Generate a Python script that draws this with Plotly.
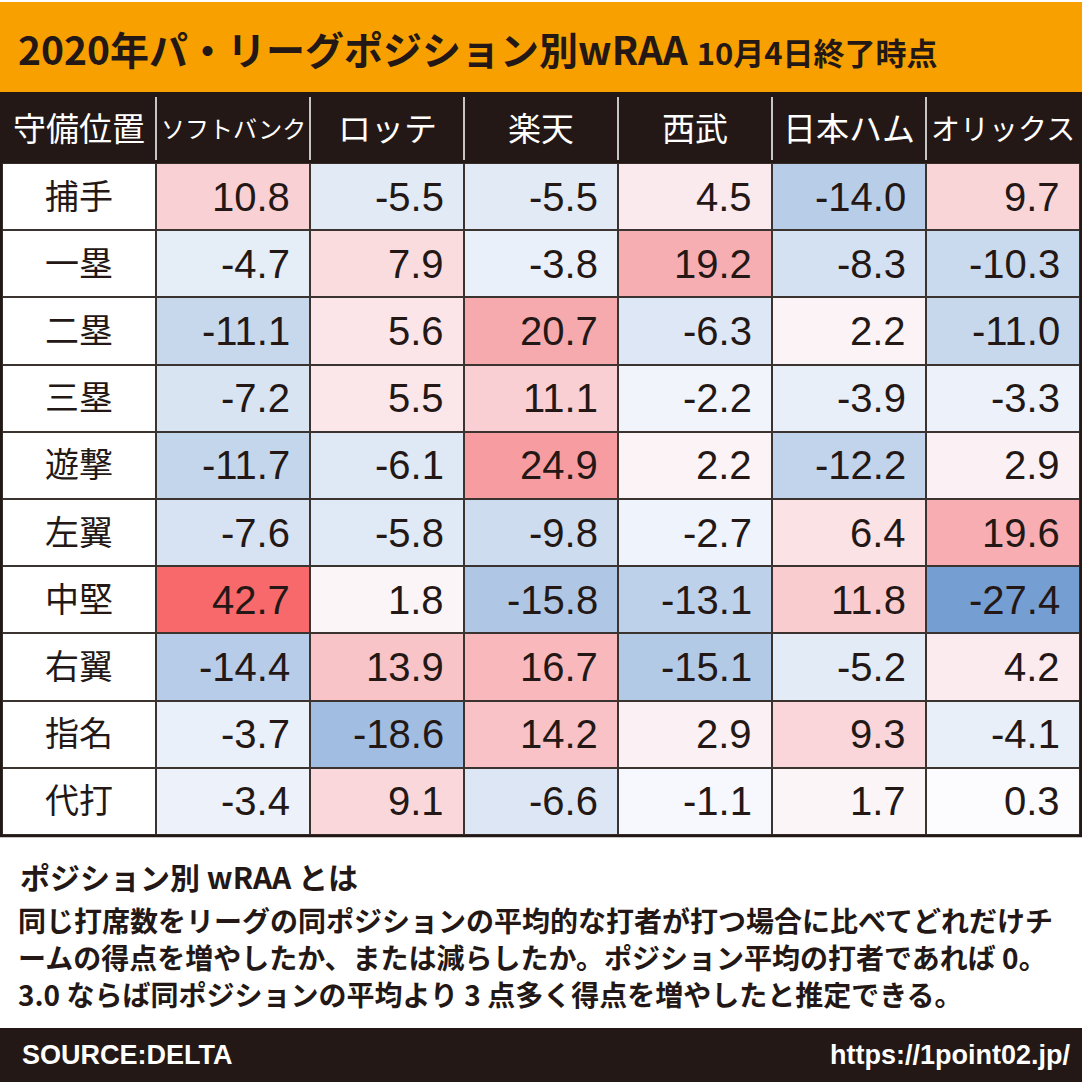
import plotly.graph_objects as go

# data
teams = ["ソフトバンク", "ロッテ", "楽天", "西武", "日本ハム", "オリックス"]
positions = ["捕手", "一塁", "二塁", "三塁", "遊撃", "左翼", "中堅", "右翼", "指名", "代打"]
softbank = [10.8, -4.7, -11.1, -7.2, -11.7, -7.6, 42.7, -14.4, -3.7, -3.4]
lotte = [-5.5, 7.9, 5.6, 5.5, -6.1, -5.8, 1.8, 13.9, -18.6, 9.1]
rakuten = [-5.5, -3.8, 20.7, 11.1, 24.9, -9.8, -15.8, 16.7, 14.2, -6.6]
seibu = [4.5, 19.2, -6.3, -2.2, 2.2, -2.7, -13.1, -15.1, 2.9, -1.1]
nipponham = [-14.0, -8.3, 2.2, -3.9, -12.2, 6.4, 11.8, -5.2, 9.3, 1.7]
orix = [9.7, -10.3, -11.0, -3.3, 2.9, 19.6, -27.4, 4.2, -4.1, 0.3]
team_values = [softbank, lotte, rakuten, seibu, nipponham, orix]

title_main = "2020年パ・リーグポジション別wRAA"
title_sub = "10月4日終了時点"
corner_label = "守備位置"
note_head = "ポジション別 wRAA とは"
note_lines = [
    "同じ打席数をリーグの同ポジションの平均的な打者が打つ場合に比べてどれだけチ",
    "ームの得点を増やしたか、または減らしたか。ポジション平均の打者であれば 0。",
    "3.0 ならば同ポジションの平均より 3 点多く得点を増やしたと推定できる。",
]
source_text = "SOURCE:DELTA"
url_text = "https://1point02.jp/"

DARK = "#231815"
ORANGE = "#F7A000"
JP = "Noto Sans CJK JP"
NUM = "Liberation Sans, Arial, sans-serif"
W = H = 1082


def py(px):
    # pixel row (from top) -> paper y
    return 1 - px / H


# z matrix rows = positions, cols = teams
z = [[team_values[j][i] for j in range(len(teams))] for i in range(len(positions))]
zmin = min(min(v) for v in team_values)
zmax = max(max(v) for v in team_values)
mid = -zmin / (zmax - zmin)

fig = go.Figure()

# label column (white cells)
fig.add_trace(go.Heatmap(
    x=[corner_label] * len(positions), y=positions, z=[0] * len(positions),
    text=positions, texttemplate="%{text}",
    textfont=dict(family=JP, size=34, color=DARK),
    colorscale=[[0, "white"], [1, "white"]], showscale=False,
    xgap=2, ygap=2, hoverinfo="skip",
))

fig.add_trace(go.Heatmap(
    x=teams, y=positions, z=z, zmin=zmin, zmax=zmax,
    colorscale=[[0, "#759ED2"], [mid * 0.5, "#BACFE9"], [mid, "#FCFCFF"],
                [mid + (1 - mid) * 0.45, "#F7AEB2"], [1, "#F8696B"]],
    showscale=False, xgap=2, ygap=2,
))

annotations = []
for j, t in enumerate(teams):
    for i, p in enumerate(positions):
        annotations.append(dict(
            x=t, y=p, xref="x", yref="y", text=f"{team_values[j][i]:.1f}",
            showarrow=False, xanchor="right", xshift=59,
            font=dict(family=NUM, size=40, color=DARK),
        ))

# header labels
for lab in [corner_label] + teams:
    annotations.append(dict(
        x=lab, xref="x", y=py(127), yref="paper", yanchor="middle", text=lab,
        showarrow=False,
        font=dict(family=JP, size=min(33, int(146 / len(lab))), color="white"),
    ))

# title
annotations.append(dict(
    x=16 / W, y=py(48), xref="paper", yref="paper", xanchor="left", yanchor="middle",
    text=f"<b>{title_main}</b> <b><span style='font-size:31px'>{title_sub}</span></b>",
    showarrow=False, font=dict(family=JP, size=39, color=DARK),
))

# note
annotations.append(dict(
    x=18 / W, y=py(876), xref="paper", yref="paper", xanchor="left", yanchor="middle",
    text=f"<b>{note_head}</b>", showarrow=False,
    font=dict(family=JP, size=30, color=DARK),
))
for k, line in enumerate(note_lines):
    annotations.append(dict(
        x=16 / W, y=py([920, 957, 994][k]), xref="paper", yref="paper",
        xanchor="left", yanchor="middle",
        text=f"<b>{line}</b>", showarrow=False,
        font=dict(family=JP, size=28, color=DARK),
    ))

# footer
annotations.append(dict(
    x=20 / W, y=py(1055), xref="paper", yref="paper", xanchor="left", yanchor="middle",
    text=f"<b>{source_text}</b>", showarrow=False,
    font=dict(family=NUM, size=27, color="white"),
))
annotations.append(dict(
    x=1 - 10 / W, y=py(1055), xref="paper", yref="paper", xanchor="right", yanchor="middle",
    text=f"<b>{url_text}</b>", showarrow=False,
    font=dict(family=NUM, size=27, color="white"),
))

shapes = [
    dict(type="rect", xref="paper", yref="paper", x0=0, x1=1, y0=py(92), y1=py(2),
         fillcolor=ORANGE, line_width=0, layer="below"),
    dict(type="rect", xref="paper", yref="paper", x0=0, x1=1, y0=py(163), y1=py(92),
         fillcolor=DARK, line_width=0, layer="below"),
    dict(type="rect", xref="paper", yref="paper", x0=0, x1=1, y0=0, y1=py(1028),
         fillcolor=DARK, line_width=0, layer="below"),
    dict(type="rect", xref="paper", yref="paper", x0=1 / W, x1=1 - 1 / W,
         y0=py(836), y1=py(162), line=dict(color=DARK, width=2.5)),
]
for k in range(len(teams)):
    shapes.append(dict(type="line", xref="x", yref="paper", x0=k + 0.5, x1=k + 0.5,
                       y0=py(160), y1=py(97), line=dict(color="white", width=1.5)))

fig.update_layout(
    width=W, height=H, margin=dict(l=0, r=0, t=0, b=0),
    paper_bgcolor="white", plot_bgcolor="#3a3330",
    xaxis=dict(domain=[2 / W, 1 - 2 / W], showticklabels=False, showgrid=False,
               zeroline=False, fixedrange=True),
    yaxis=dict(domain=[py(835), py(163)], autorange="reversed", showticklabels=False,
               showgrid=False, zeroline=False, fixedrange=True),
    annotations=annotations, shapes=shapes, showlegend=False,
)

# page body has a default 8px margin; drop it so the figure fills the window
fig.write_html("out.html", config={"displayModeBar": False},
               post_script="document.body.style.margin='0';document.body.style.overflow='hidden';")
